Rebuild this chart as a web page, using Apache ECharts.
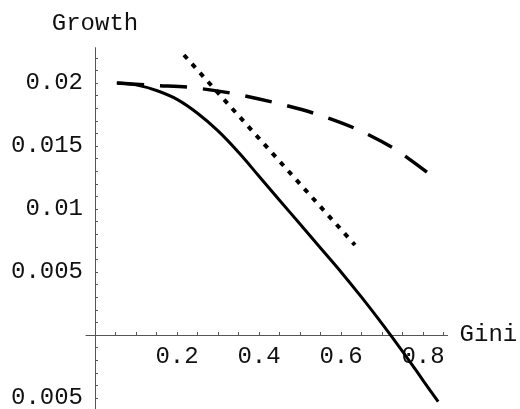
<!DOCTYPE html>
<html>
<head>
<meta charset="utf-8">
<script src="https://cdn.jsdelivr.net/npm/echarts@6/dist/echarts.min.js"></script>
<style>
html,body{margin:0;padding:0;background:#fff;}
#chart{width:520px;height:409px;}
</style>
</head>
<body>
<div id="chart"></div>
<script>
// Data
const solidX  = [0.053, 0.10, 0.15, 0.20, 0.25, 0.30, 0.35, 0.40, 0.45, 0.50, 0.55, 0.60, 0.65, 0.70, 0.75, 0.80, 0.837];
const solidY  = [0.0200, 0.01985, 0.0194, 0.0187, 0.0176, 0.0162, 0.0145, 0.0126, 0.0107, 0.0088, 0.0069, 0.0050, 0.0030, 0.0009, -0.0013, -0.0036, -0.0053];
const dashedX = [0.054, 0.15, 0.224, 0.329, 0.432, 0.532, 0.632, 0.727, 0.812];
const dashedY = [0.0200, 0.0198, 0.01968, 0.01921, 0.01849, 0.01762, 0.01643, 0.01484, 0.01286];
const dottedX = [0.217, 0.634];
const dottedY = [0.02222, 0.00714];
const xTickLabels = [0.2, 0.4, 0.6, 0.8];
const xTickMarks = [0.05, 0.1, 0.15, 0.2, 0.25, 0.3, 0.35, 0.4, 0.45, 0.5, 0.55, 0.6, 0.65, 0.7, 0.75, 0.8, 0.85];
const yTickLabels = [-0.005, 0.005, 0.01, 0.015, 0.02];
const yTickMarks = [-0.005, -0.004, -0.003, -0.002, -0.001, 0.001, 0.002, 0.003, 0.004, 0.005, 0.006, 0.007, 0.008, 0.009,
                    0.01, 0.011, 0.012, 0.013, 0.014, 0.015, 0.016, 0.017, 0.018, 0.019, 0.02, 0.021, 0.022];
const xMin = -0.022, xMax = 0.86, yMin = -0.0059, yMax = 0.0228;

const pair = (xs, ys) => xs.map((x, i) => [x, ys[i]]);
const font = '"Liberation Mono", "DejaVu Sans Mono", monospace';

// grid geometry (layout only)
const gLeft = 86, gWidth = 361.6, gTop = 47.7, gHeight = 361.6;
// place axes at the zero position via offsets
const yOffset = -gWidth * (0 - xMin) / (xMax - xMin);
const xOffset = -gHeight * (0 - yMin) / (yMax - yMin);

const chart = echarts.init(document.getElementById('chart'), null, {renderer: 'canvas'});
chart.setOption({
  animation: false,
  backgroundColor: '#ffffff',
  grid: {left: gLeft, width: gWidth, top: gTop, height: gHeight, containLabel: false, outerBoundsMode: 'none'},
  xAxis: {
    type: 'value', min: xMin, max: xMax, position: 'bottom', offset: xOffset,
    name: 'Gini', nameLocation: 'end', nameGap: 12,
    nameTextStyle: {fontFamily: font, fontSize: 24, color: '#111', verticalAlign: 'middle'},
    axisLine: {onZero: false, lineStyle: {color: '#555', width: 1}},
    axisTick: {show: true, inside: true, length: 3, customValues: xTickMarks, lineStyle: {color: '#555', width: 1}},
    splitLine: {show: false},
    axisLabel: {
      margin: 10, fontFamily: font, fontSize: 24, color: '#111', customValues: xTickLabels,
      formatter: v => String(Math.round(v * 10) / 10)
    }
  },
  yAxis: {
    type: 'value', min: yMin, max: yMax, position: 'left', offset: yOffset,
    name: 'Growth', nameLocation: 'end', nameGap: 24,
    nameTextStyle: {fontFamily: font, fontSize: 24, color: '#111', align: 'center', verticalAlign: 'middle'},
    axisLine: {onZero: false, lineStyle: {color: '#555', width: 1}},
    axisTick: {show: true, inside: true, length: 3, customValues: yTickMarks, lineStyle: {color: '#555', width: 1}},
    splitLine: {show: false},
    axisLabel: {
      margin: 12, fontFamily: font, fontSize: 24, color: '#111', customValues: yTickLabels,
      formatter: v => String(Math.abs(Math.round(v * 1000) / 1000))
    }
  },
  series: [
    {type: 'line', data: pair(solidX, solidY), showSymbol: false, smooth: 0.4,
     lineStyle: {color: '#000', width: 3}},
    {type: 'line', data: pair(dashedX, dashedY), showSymbol: false, smooth: 0.3,
     lineStyle: {color: '#000', width: 3.5, type: [27, 16]}},
    {type: 'line', data: pair(dottedX, dottedY), showSymbol: false,
     lineStyle: {color: '#000', width: 4, type: [5, 7]}}
  ]
});
</script>
</body>
</html>
